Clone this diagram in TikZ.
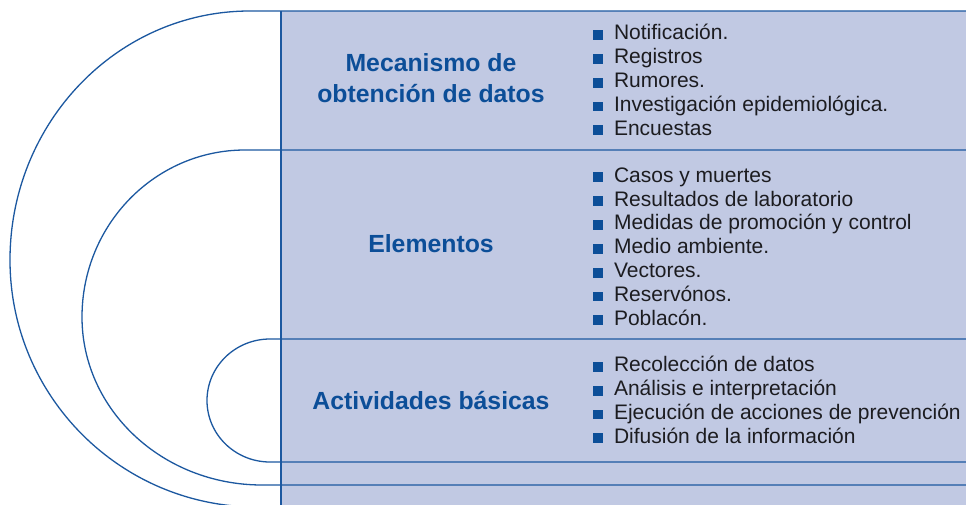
\documentclass[tikz,border=0pt]{standalone}
\usepackage{fontspec}
\setmainfont{Liberation Sans}
\definecolor{fillc}{RGB}{193,201,227}
\definecolor{linec}{RGB}{28,88,160}
\definecolor{headc}{RGB}{12,78,152}
\definecolor{textc}{RGB}{28,28,32}
\newcommand\bul{\textcolor{headc}{\rule{9.8pt}{9.8pt}}\hspace{11pt}}
\tikzset{
  outline/.style={draw=linec, line width=1.3pt},
  divider/.style={draw=linec, line width=2.2pt},
  head/.style={font=\fontsize{24.8}{31}\selectfont\bfseries, text=headc, inner sep=0pt, anchor=base},
  item/.style={font=\fontsize{21}{24}\selectfont, text=textc, inner sep=0pt, anchor=base west},
}
\begin{document}
\begin{tikzpicture}[x=1pt,y=-1pt]
\useasboundingbox (0,0) rectangle (966,505);
\clip (0,0) rectangle (966,505);
\fill[white] (0,0) rectangle (966,505);
\fill[fillc] (281,11) rectangle (966,505);
% outer shape
\draw[outline] (966,11) -- (250,11)
  arc[start angle=270, end angle=180, x radius=240, y radius=249]
  arc[start angle=180, end angle=90, x radius=247, y radius=247];
% middle shape
\draw[outline] (966,150) -- (245,150)
  arc[start angle=270, end angle=180, x radius=163, y radius=167]
  arc[start angle=180, end angle=90, x radius=180, y radius=168] -- (966,485);
% inner shape
\draw[outline] (966,339) -- (270,339) arc[start angle=270, end angle=90, x radius=63, y radius=61.5] -- (966,462);
% vertical divider
\draw[divider] (281,11) -- (281,505);
% headings
\node[head] (h1) at (431,72) {\begin{tabular}[t]{@{}c@{}}Mecanismo de\\obtención de datos\end{tabular}};
\node[head] (h2) at (431,252) {Elementos};
\node[head] (h3) at (431,409) {Actividades básicas};
% items
\foreach \t [count=\i from 0] in {Notificación., Registros, Rumores., Investigación epidemiológica., Encuestas}
  \node[item] (m\i) at (593, 40+23.8*\i) {\bul\t};
\foreach \t [count=\i from 0] in {Casos y muertes, Resultados de laboratorio, Medidas de promoción y control, Medio ambiente., Vectores., Reservónos., Poblacón.}
  \node[item] (e\i) at (593, 182.3+23.8*\i) {\bul\t};
\foreach \t [count=\i from 0] in {Recolección de datos, Análisis e interpretación, Ejecución de acciones de prevención, Difusión de la información}
  \node[item] (a\i) at (593, 371.7+23.8*\i) {\bul\t};
\end{tikzpicture}
\end{document}
